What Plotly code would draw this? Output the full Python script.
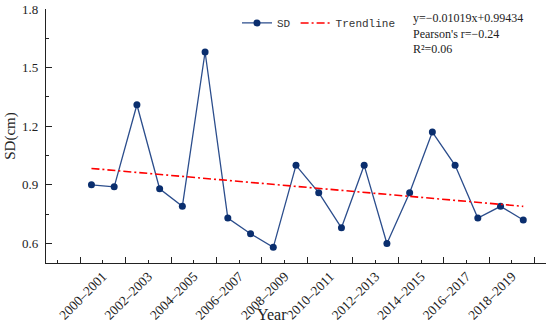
import plotly.graph_objects as go

# ---- data ----
years = ["2000–2001", "2001–2002", "2002–2003", "2003–2004", "2004–2005",
         "2005–2006", "2006–2007", "2007–2008", "2008–2009", "2009–2010",
         "2010–2011", "2011–2012", "2012–2013", "2013–2014", "2014–2015",
         "2015–2016", "2016–2017", "2017–2018", "2018–2019", "2019–2020"]
sd_values = [0.90, 0.89, 1.31, 0.88, 0.79, 1.58, 0.73, 0.65, 0.58, 1.00,
             0.86, 0.68, 1.00, 0.60, 0.86, 1.17, 1.00, 0.73, 0.79, 0.72]
trend_years = ["2000–2001", "2019–2020"]
trend_values = [0.984, 0.790]
label_years = ["2000–2001", "2002–2003", "2004–2005", "2006–2007", "2008–2009",
               "2010–2011", "2012–2013", "2014–2015", "2016–2017", "2018–2019"]
y_ticks = [0.6, 0.9, 1.2, 1.5, 1.8]
stats_text = ["y=−0.01019x+0.99434", "Pearson's r=−0.24", "R²=0.06"]

idx = {c: i for i, c in enumerate(years)}
x_sd = [idx[c] for c in years]
x_trend = [idx[c] for c in trend_years]
# labels in the reference are centred on the major ticks (half a step left of the year)
label_pos = [idx[c] + 0.5 for c in label_years]
major_pos = [idx[c] - 0.5 for c in label_years] + [idx[years[-1]] + 0.5]

serif = "Liberation Serif"
fig = go.Figure()
fig.add_trace(go.Scatter(
    x=x_sd, y=sd_values, mode="lines+markers", name="SD",
    line=dict(color="#2b4d8c", width=1.3),
    marker=dict(color="#0a2e6e", size=7),
))
fig.add_trace(go.Scatter(
    x=x_trend, y=trend_values, mode="lines", name="Trendline",
    line=dict(color="#ff0000", width=1.6, dash="8px,3px,2px,3px"),
))
# invisible trace to carry the label axis
fig.add_trace(go.Scatter(x=[label_pos[0]], y=[1.0], xaxis="x2", mode="markers",
                         marker=dict(opacity=0), showlegend=False, hoverinfo="skip"))

xr = [-2, 20]
fig.update_layout(
    width=550, height=326,
    margin=dict(l=46, r=4, t=9, b=63),
    plot_bgcolor="white", paper_bgcolor="white",
    font=dict(family=serif, size=13, color="#222"),
    showlegend=True,
    legend=dict(orientation="h", x=0.382, y=0.945, xanchor="left", yanchor="middle",
                font=dict(family="Liberation Mono", size=11, color="#333"),
                bgcolor="rgba(0,0,0,0)", itemwidth=30, tracegroupgap=0),
    xaxis=dict(range=xr, showline=True, linecolor="#222", linewidth=1.3,
               tickmode="array", tickvals=major_pos, ticktext=[""] * len(major_pos),
               ticks="inside", ticklen=6, tickcolor="#222", tickwidth=1.2,
               minor=dict(tickvals=[p + 1 for p in major_pos[:-1]] + [major_pos[0] - 1],
                          ticks="inside", ticklen=3, tickcolor="#222", tickwidth=1.2),
               showgrid=False, zeroline=False, automargin=False),
    xaxis2=dict(range=xr, overlaying="x", side="bottom", anchor="y",
                tickmode="array", tickvals=label_pos, ticktext=label_years,
                tickangle=-45, ticks="", showline=False, showgrid=False, zeroline=False,
                automargin=False, ticklabelstandoff=2,
                tickfont=dict(family=serif, size=13.5, color="#222")),
    yaxis=dict(range=[0.5, 1.8], showline=True, linecolor="#222", linewidth=1.3,
               tickmode="array", tickvals=y_ticks, ticktext=[f"{v:.1f}" for v in y_ticks],
               ticks="inside", ticklen=6, tickcolor="#222", tickwidth=1.2,
               minor=dict(tickvals=[0.75, 1.05, 1.35, 1.65], ticks="inside", ticklen=3,
                          tickcolor="#222", tickwidth=1.2),
               showgrid=False, zeroline=False, automargin=False, ticklabelstandoff=4,
               title=dict(text="SD(cm)", font=dict(family=serif, size=15), standoff=2)),
)
fig.add_annotation(text="Year", xref="paper", yref="paper", x=0.452, y=0,
                   yshift=-51, xanchor="center", yanchor="middle", showarrow=False,
                   font=dict(family=serif, size=16, color="#222"))
fig.add_annotation(text="<br>".join(stats_text), xref="paper", yref="paper",
                   x=0.73, y=1.0, xanchor="left", yanchor="top", align="left",
                   showarrow=False, font=dict(family=serif, size=12, color="#222"))
fig.write_html("out.html", config={"displayModeBar": False},
               post_script="document.body.style.margin='0';document.body.style.padding='0';")
